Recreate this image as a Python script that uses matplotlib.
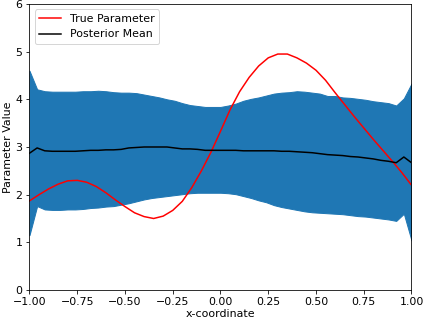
import numpy as np
import matplotlib
matplotlib.use("Agg")
import matplotlib.pyplot as plt

plt.rcParams["font.size"] = 11

# posterior grid (step 0.04)
x_post = np.round(np.arange(-1.0, 1.0001, 0.04), 2)

post_mean = [2.87, 2.98, 2.92, 2.91, 2.91, 2.91, 2.91, 2.92, 2.93, 2.93,
             2.94, 2.94, 2.95, 2.98, 2.99, 3.00, 3.00, 3.00, 3.00, 2.98,
             2.96, 2.96, 2.95, 2.93, 2.93, 2.93, 2.93, 2.93, 2.92, 2.92,
             2.92, 2.92, 2.92, 2.91, 2.91, 2.90, 2.89, 2.88, 2.86, 2.84,
             2.83, 2.82, 2.80, 2.79, 2.77, 2.75, 2.72, 2.70, 2.67, 2.79,
             2.67]

post_upper = [4.60, 4.21, 4.17, 4.16, 4.16, 4.16, 4.16, 4.17, 4.17, 4.18,
              4.17, 4.15, 4.14, 4.14, 4.13, 4.10, 4.07, 4.04, 4.00, 3.97,
              3.92, 3.88, 3.86, 3.84, 3.84, 3.84, 3.87, 3.91, 3.97, 4.01,
              4.04, 4.08, 4.12, 4.14, 4.15, 4.17, 4.16, 4.14, 4.12, 4.07,
              4.07, 4.04, 4.03, 4.01, 3.99, 3.96, 3.94, 3.92, 3.87, 4.02,
              4.33]

post_lower = [1.15, 1.76, 1.69, 1.68, 1.68, 1.69, 1.69, 1.70, 1.72, 1.73,
              1.75, 1.76, 1.79, 1.82, 1.86, 1.90, 1.93, 1.95, 1.97, 1.99,
              2.01, 2.03, 2.04, 2.04, 2.04, 2.04, 2.03, 2.01, 1.97, 1.93,
              1.88, 1.84, 1.78, 1.74, 1.71, 1.68, 1.65, 1.63, 1.62, 1.61,
              1.60, 1.59, 1.57, 1.55, 1.54, 1.52, 1.50, 1.48, 1.45, 1.60,
              1.04]

# true parameter (step 0.05)
x_true = np.round(np.arange(-1.0, 1.0001, 0.05), 2)
true_param = [1.87, 2.00, 2.12, 2.22, 2.29, 2.30, 2.26, 2.17, 2.04, 1.89,
              1.75, 1.62, 1.54, 1.50, 1.55, 1.67, 1.86, 2.15, 2.50, 2.89,
              3.33, 3.78, 4.16, 4.46, 4.70, 4.87, 4.95, 4.95, 4.87, 4.76,
              4.61, 4.40, 4.14, 3.89, 3.64, 3.40, 3.16, 2.93, 2.70, 2.46,
              2.20]

fig = plt.figure(figsize=(423 / 72, 322 / 72), dpi=72)
ax = fig.add_axes([0.0697, 0.0994, 0.9031, 0.8882])

ax.fill_between(x_post, post_lower, post_upper, color="#1f77b4")
ax.plot(x_true, true_param, color="r", label="True Parameter")
ax.plot(x_post, post_mean, color="k", label="Posterior Mean")

ax.set_xlim(-1, 1)
ax.set_ylim(0, 6)
ax.set_xlabel("x-coordinate", labelpad=2)
ax.set_ylabel("Parameter Value", labelpad=2)
ax.legend(loc="upper left")

fig.savefig("out.png", dpi=72)
